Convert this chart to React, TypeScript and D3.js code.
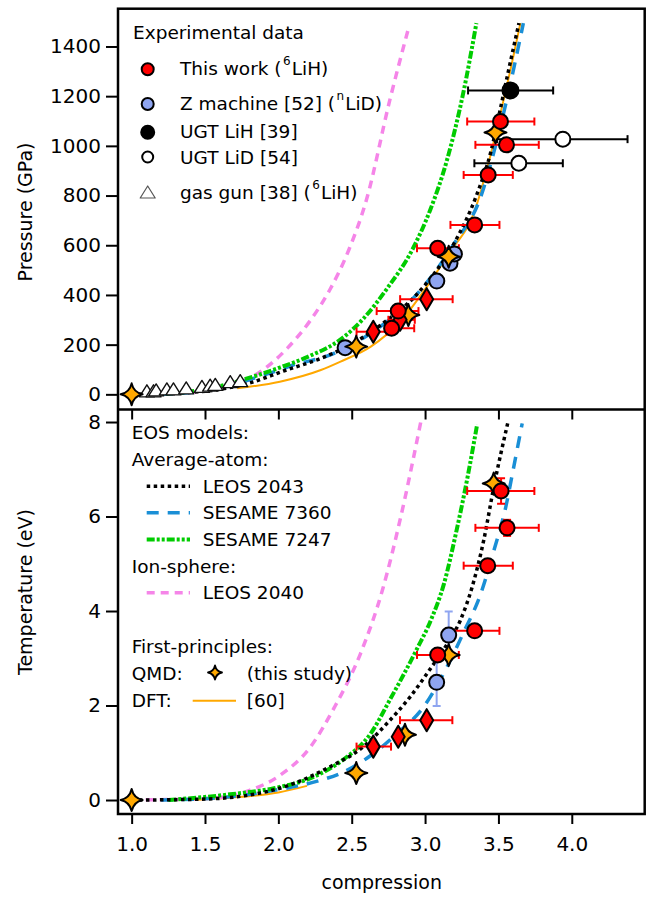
import React, { useEffect, useRef } from "react";
import * as d3 from "d3";

// axis ticks
const compressionTicks = [1.0, 1.5, 2.0, 2.5, 3.0, 3.5, 4.0];
const pressureTicks = [0, 200, 400, 600, 800, 1000, 1200, 1400];
const temperatureTicks = [0, 2, 4, 6, 8];

// EOS model curves, pressure panel: [compression, GPa]
const leos2043P = [[1.05, 0], [1.3, 5], [1.6, 20], [1.8, 45], [2.04, 95], [2.29, 145], [2.46, 190], [2.7, 280], [3.0, 440], [3.2, 610], [3.35, 800], [3.45, 980], [3.51, 1140], [3.56, 1279], [3.64, 1494]];
const sesame7360P = [[1.2, 0], [1.5, 14], [1.94, 85], [2.1, 118], [2.35, 158], [2.46, 188], [2.63, 246], [2.97, 420], [3.2, 608], [3.38, 796], [3.48, 1000], [3.57, 1220], [3.67, 1494]];
const sesame7247P = [[1.1, 0], [1.47, 17], [1.81, 68], [2.01, 108], [2.2, 151], [2.42, 219], [2.58, 305], [2.74, 425], [2.92, 590], [3.035, 742], [3.15, 944], [3.26, 1212], [3.35, 1494]];
const leos2040P = [[1.0, 0], [1.3, 4], [1.6, 25], [1.9, 100], [2.06, 185], [2.22, 299], [2.35, 420], [2.48, 581], [2.6, 782], [2.76, 1185], [2.89, 1480]];
const dftP = [[1.72, 24], [2.01, 51], [2.29, 98], [2.42, 131], [2.63, 192], [2.83, 292], [3.035, 453], [3.16, 565], [3.34, 742], [3.43, 925], [3.51, 1120], [3.58, 1300], [3.65, 1494]];

// EOS model curves, temperature panel: [compression, eV]
const leos2043T = [[1.05, 0], [1.5, 0.02], [2.01, 0.25], [2.35, 0.7], [2.58, 1.13], [2.74, 1.62], [2.9, 2.19], [3.03, 2.75], [3.15, 3.3], [3.24, 3.8], [3.32, 4.5], [3.4, 5.5], [3.47, 6.65], [3.563, 7.97]];
const sesame7360T = [[1.2, 0], [1.6, 0.05], [2.0, 0.22], [2.29, 0.42], [2.42, 0.56], [2.62, 0.92], [2.81, 1.41], [2.99, 1.97], [3.15, 2.82], [3.26, 3.53], [3.38, 4.37], [3.47, 5.29], [3.55, 6.2], [3.6, 6.98], [3.662, 7.97]];
const sesame7247T = [[1.25, 0], [1.67, 0.12], [1.97, 0.25], [2.24, 0.49], [2.44, 0.85], [2.63, 1.41], [2.76, 2.12], [2.94, 3.17], [3.04, 3.81], [3.13, 4.59], [3.21, 5.64], [3.29, 6.84], [3.355, 7.95]];
const leos2040T = [[1.0, 0], [1.5, 0.03], [1.8, 0.2], [2.01, 0.52], [2.22, 1.13], [2.38, 1.95], [2.56, 3.1], [2.71, 4.45], [2.84, 6.07], [2.97, 7.99]];
const dftT = [[1.4, 0], [1.67, 0.05], [1.8, 0.08], [2.0, 0.16], [2.195, 0.3]];

// This work (6LiH): [compression, value, xLow, xHigh, yErr]
const thisWorkCirclesP = [[2.772, 266, 2.727, 2.926], [2.817, 335, 2.67, 2.955], [3.086, 588, 2.945, 3.23], [3.338, 682, 3.173, 3.507], [3.43, 883, 3.263, 3.598], [3.514, 1098, 3.287, 3.745], [3.555, 1004, 3.343, 3.775]];
const thisWorkDiamondsP = [[2.647, 252, 2.533, 2.738], [2.83, 300, 2.75, 2.93], [3.011, 383, 2.83, 3.188]];
const thisWorkCirclesT = [[3.086, 3.07, 2.945, 3.23, 0], [3.338, 3.58, 3.173, 3.507, 0], [3.427, 4.96, 3.263, 3.598, 0], [3.518, 6.54, 3.287, 3.745, 0.27], [3.559, 5.76, 3.343, 3.775, 0.17]];
const thisWorkDiamondsT = [[2.647, 1.13, 2.533, 2.768], [2.817, 1.34, 2.817, 2.817], [3.011, 1.69, 2.829, 3.186]];

// Z machine (nLiD)
const zMachineP = [[2.455, 188], [3.08, 456], [3.17, 528], [3.2, 565]];
const zMachineT = [[3.079, 2.49, 0.5], [3.161, 3.49, 0.5]];

// UGT
const ugtLiH = [[3.582, 1223, 3.293, 3.873]];
const ugtLiD = [[3.939, 1027, 3.49, 4.38], [3.639, 930, 3.336, 3.939]];

// gas gun [38]
const gasGunC = [1.104, 1.149, 1.167, 1.24, 1.285, 1.372, 1.479, 1.535, 1.57, 1.672, 1.74];
const gasGunP = [10, 10, 14, 18, 18, 22, 28, 33, 36, 47, 51];

// QMD (this study)
const qmdP = [[1.0, 0], [2.531, 192], [2.886, 319], [3.161, 554], [3.48, 1054]];
const qmdT = [[1.0, 0], [2.531, 0.57], [2.863, 1.38], [3.161, 3.07], [3.468, 6.7]];

const RED = "#ff0000";
const ZBLUE = "#8fa5f0";
const ORANGE = "#ffa800";
const FONT = "DejaVu Sans";

const models = [
  { name: "LEOS 2043", p: leos2043P, t: leos2043T, color: "#000", width: 3.5, dash: "3.5,3.5" },
  { name: "SESAME 7360", p: sesame7360P, t: sesame7360T, color: "#1a8fd6", width: 3.5, dash: "12,9" },
  { name: "SESAME 7247", p: sesame7247P, t: sesame7247T, color: "#00cc00", width: 4, dash: "8,2,3,2,3,2" },
  { name: "LEOS 2040", p: leos2040P, t: leos2040T, color: "#f585e8", width: 3.5, dash: "8,6" },
];

function starPath(R) {
  const k = R * 0.18;
  return `M0,${-R}Q${k},${-k} ${R},0Q${k},${k} 0,${R}Q${-k},${k} ${-R},0Q${-k},${-k} 0,${-R}Z`;
}
function diamondPath(w, h) {
  return `M0,${-h}L${w},0L0,${h}L${-w},0Z`;
}
const trianglePath = "M0,-7L7.5,5L-7.5,5Z";

export default function App() {
  const ref = useRef(null);

  useEffect(() => {
    const svg = d3.select(ref.current);
    svg.selectAll("*").remove();

    const left = 118, right = 644.7, top = 8.7, mid = 409.5, bottom = 814;

    const x = d3.scaleLinear().domain([0.907, 4.497]).range([left, right]);
    const yP = d3.scaleLinear().domain([-61, 1552]).range([mid, top]);
    const yT = d3.scaleLinear().domain([-0.296, 8.265]).range([bottom, mid]);

    const defs = svg.append("defs");
    defs.append("clipPath").attr("id", "clipP").append("rect")
      .attr("x", left).attr("y", top).attr("width", right - left).attr("height", mid - top);
    defs.append("clipPath").attr("id", "clipT").append("rect")
      .attr("x", left).attr("y", mid).attr("width", right - left).attr("height", bottom - mid);

    const panels = [
      { y: yP, clip: "clipP", key: "p" },
      { y: yT, clip: "clipT", key: "t" },
    ];

    // model curves
    panels.forEach((pn) => {
      const g = svg.append("g").attr("clip-path", `url(#${pn.clip})`);
      const line = d3.line().x((d) => x(d[0])).y((d) => pn.y(d[1])).curve(d3.curveMonotoneX);
      g.append("path").attr("d", line(pn.key === "p" ? dftP : dftT))
        .attr("fill", "none").attr("stroke", ORANGE).attr("stroke-width", 2);
      [models[3], models[1], models[2], models[0]].forEach((m) => {
        g.append("path").attr("d", line(m[pn.key]))
          .attr("fill", "none").attr("stroke", m.color)
          .attr("stroke-width", m.width).attr("stroke-dasharray", m.dash);
      });
    });

    const hErr = (g, y, rows, color) => {
      rows.forEach((r) => {
        if (r[3] - r[2] <= 0) return;
        const yy = y(r[1]);
        g.append("line").attr("x1", x(r[2])).attr("x2", x(r[3])).attr("y1", yy).attr("y2", yy)
          .attr("stroke", color).attr("stroke-width", 2);
        [r[2], r[3]].forEach((v) => {
          g.append("line").attr("x1", x(v)).attr("x2", x(v)).attr("y1", yy - 4).attr("y2", yy + 4)
            .attr("stroke", color).attr("stroke-width", 2);
        });
      });
    };
    const vErr = (g, y, cx, cy, e, color) => {
      if (!e) return;
      const xx = x(cx);
      g.append("line").attr("x1", xx).attr("x2", xx).attr("y1", y(cy - e)).attr("y2", y(cy + e))
        .attr("stroke", color).attr("stroke-width", 2);
      [cy - e, cy + e].forEach((v) => {
        g.append("line").attr("x1", xx - 4).attr("x2", xx + 4).attr("y1", y(v)).attr("y2", y(v))
          .attr("stroke", color).attr("stroke-width", 2);
      });
    };
    const circle = (g, cx, cy, r, fill) =>
      g.append("circle").attr("cx", cx).attr("cy", cy).attr("r", r)
        .attr("fill", fill).attr("stroke", "#000").attr("stroke-width", 2);
    const shape = (g, cx, cy, d, fill, sw = 2, stroke = "#000") =>
      g.append("path").attr("d", d).attr("transform", `translate(${cx},${cy})`)
        .attr("fill", fill).attr("stroke", stroke).attr("stroke-width", sw).attr("stroke-linejoin", "round");

    // pressure panel markers
    const gp = svg.append("g");
    gasGunC.forEach((c, i) => shape(gp, x(c), yP(gasGunP[i]), trianglePath, "#fff", 1.4, "#111"));
    hErr(gp, yP, ugtLiD, "#000");
    hErr(gp, yP, ugtLiH, "#000");
    hErr(gp, yP, thisWorkDiamondsP, RED);
    hErr(gp, yP, thisWorkCirclesP, RED);
    zMachineP.forEach((d) => circle(gp, x(d[0]), yP(d[1]), 7.5, ZBLUE));
    qmdP.forEach((d) => shape(gp, x(d[0]), yP(d[1]), starPath(11), ORANGE));
    thisWorkDiamondsP.forEach((d) => shape(gp, x(d[0]), yP(d[1]), diamondPath(6.5, 11), RED));
    thisWorkCirclesP.forEach((d) => circle(gp, x(d[0]), yP(d[1]), 7.5, RED));
    ugtLiD.forEach((d) => circle(gp, x(d[0]), yP(d[1]), 7.5, "#fff"));
    ugtLiH.forEach((d) => circle(gp, x(d[0]), yP(d[1]), 8, "#000"));

    // temperature panel markers
    const gt = svg.append("g");
    zMachineT.forEach((d) => vErr(gt, yT, d[0], d[1], d[2], ZBLUE));
    hErr(gt, yT, thisWorkDiamondsT, RED);
    hErr(gt, yT, thisWorkCirclesT, RED);
    thisWorkCirclesT.forEach((d) => vErr(gt, yT, d[0], d[1], d[4], RED));
    zMachineT.forEach((d) => circle(gt, x(d[0]), yT(d[1]), 7.5, ZBLUE));
    qmdT.forEach((d) => shape(gt, x(d[0]), yT(d[1]), starPath(11), ORANGE));
    thisWorkDiamondsT.forEach((d) => shape(gt, x(d[0]), yT(d[1]), diamondPath(6.5, 11), RED));
    thisWorkCirclesT.forEach((d) => circle(gt, x(d[0]), yT(d[1]), 7.5, RED));

    // axes
    const styleAxis = (g) => {
      g.select(".domain").remove();
      g.selectAll("line").attr("stroke", "#000").attr("stroke-width", 2);
      g.selectAll("text").attr("font-family", FONT).attr("font-size", 20).attr("fill", "#000");
    };
    svg.append("g").attr("transform", `translate(${left},0)`)
      .call(d3.axisLeft(yP).tickValues(pressureTicks).tickSize(12).tickPadding(5).tickFormat(d3.format("d")))
      .call(styleAxis);
    svg.append("g").attr("transform", `translate(${left},0)`)
      .call(d3.axisLeft(yT).tickValues(temperatureTicks).tickSize(12).tickPadding(5).tickFormat(d3.format("d")))
      .call(styleAxis);
    svg.append("g").attr("transform", `translate(0,${mid})`)
      .call(d3.axisBottom(x).tickValues(compressionTicks).tickSize(10).tickFormat(() => ""))
      .call(styleAxis);
    svg.append("g").attr("transform", `translate(0,${bottom})`)
      .call(d3.axisBottom(x).tickValues(compressionTicks).tickSize(10).tickPadding(13).tickFormat(d3.format(".1f")))
      .call(styleAxis);

    // frame
    svg.append("rect").attr("x", left).attr("y", top).attr("width", right - left).attr("height", bottom - top)
      .attr("fill", "none").attr("stroke", "#000").attr("stroke-width", 2.5);
    svg.append("line").attr("x1", left).attr("x2", right).attr("y1", mid).attr("y2", mid)
      .attr("stroke", "#000").attr("stroke-width", 2.5);

    // axis titles
    const title = (tx, ty, rot, s) =>
      svg.append("text").attr("transform", `translate(${tx},${ty}) rotate(${rot})`)
        .attr("text-anchor", "middle").attr("font-family", FONT).attr("font-size", 19).text(s);
    title(31.5, 212, -90, "Pressure (GPa)");
    title(31.5, 592, -90, "Temperature (eV)");
    title(381.7, 889, 0, "compression");

    // legend text
    const LS = 18.5;
    const text = (tx, ty, parts) => {
      const t = svg.append("text").attr("x", tx).attr("y", ty)
        .attr("font-family", FONT).attr("font-size", LS).attr("fill", "#000");
      let raised = false;
      parts.forEach((p) => {
        const sup = typeof p !== "string";
        const s = sup ? p.sup : p;
        const sp = t.append("tspan").text(s);
        if (sup) { sp.attr("font-size", 12).attr("dy", -10).attr("dx", 1.5); raised = true; }
        else if (raised) { sp.attr("dy", 10).attr("dx", 1); raised = false; }
      });
    };

    // top legend
    const lx = 147.7, tx = 180;
    text(133, 38.5, ["Experimental data"]);
    circle(svg, lx, 69.3, 6, RED);
    text(tx, 75, ["This work (", { sup: "6" }, "LiH)"]);
    circle(svg, lx, 104, 6, ZBLUE);
    text(tx, 110, ["Z machine [52] (", { sup: "n" }, "LiD)"]);
    circle(svg, lx, 132.3, 6.5, "#000");
    text(tx, 138, ["UGT LiH [39]"]);
    circle(svg, lx, 157, 5.5, "#fff");
    text(tx, 164, ["UGT LiD [54]"]);
    shape(svg, lx, 193, trianglePath, "#fff", 1.2, "#555");
    text(tx, 199, ["gas gun [38] (", { sup: "6" }, "LiH)"]);

    // bottom legend
    const bx = 131.7;
    text(bx, 439, ["EOS models:"]);
    text(bx, 466, ["Average-atom:"]);
    const modelRows = [
      { m: models[0], y: 492.7 },
      { m: models[1], y: 519.3 },
      { m: models[2], y: 546 },
      { m: models[3], y: 599.3 },
    ];
    modelRows.forEach(({ m, y }) => {
      svg.append("line").attr("x1", 146.7).attr("x2", 190).attr("y1", y - 6.5).attr("y2", y - 6.5)
        .attr("stroke", m.color).attr("stroke-width", m.width).attr("stroke-dasharray", m.dash);
      text(202.7, y, [m.name]);
    });
    text(bx, 572.7, ["Ion-sphere:"]);
    text(bx, 653.3, ["First-principles:"]);
    text(bx, 680, ["QMD:"]);
    shape(svg, 215, 672.5, starPath(7), ORANGE, 1.8);
    text(246.7, 680, ["(this study)"]);
    text(bx, 707.3, ["DFT:"]);
    svg.append("line").attr("x1", 192.7).attr("x2", 236).attr("y1", 700.7).attr("y2", 700.7)
      .attr("stroke", ORANGE).attr("stroke-width", 2);
    text(246.7, 707.3, ["[60]"]);
  }, []);

  return (
    <svg
      ref={ref}
      width={647}
      height={898}
      style={{ position: "absolute", left: 0, top: 0, background: "#fff" }}
    />
  );
}
